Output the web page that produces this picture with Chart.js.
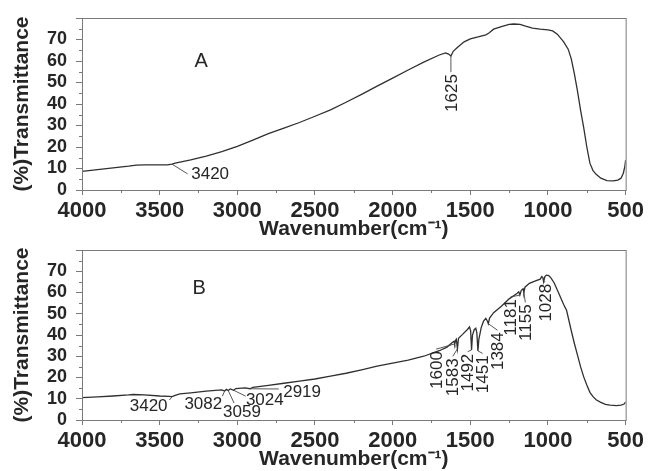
<!DOCTYPE html>
<html>
<head>
<meta charset="utf-8">
<script src="https://cdn.jsdelivr.net/npm/chart.js@4/dist/chart.umd.min.js"></script>
<style>
  body { margin: 0; background: #fff; }
  #wrap { position: relative; width: 649px; height: 471px; }
  canvas { position: absolute; left: 0; }
  #ftirA { top: 0; }
  #ftirB { top: 232px; }
</style>
</head>
<body>
<div id="wrap">
  <canvas id="ftirA" width="649" height="241"></canvas>
  <canvas id="ftirB" width="649" height="239"></canvas>
</div>
<script>
// spectrum A
var wnA = [4000, 3900, 3800, 3700, 3650, 3600, 3500, 3450, 3420, 3400, 3300, 3200, 3100, 3000, 2900, 2800, 2700, 2600, 2500, 2400, 2300, 2200, 2100, 2000, 1900, 1800, 1700, 1660, 1640, 1625, 1610, 1580, 1540, 1500, 1450, 1400, 1380, 1350, 1300, 1250, 1220, 1180, 1150, 1100, 1050, 1000, 970, 940, 900, 870, 850, 830, 810, 790, 770, 750, 730, 710, 690, 660, 620, 580, 550, 530, 515, 505, 500];
var tA = [8.7, 9.5, 10.3, 11.1, 11.6, 11.7, 11.7, 11.7, 12.0, 12.5, 14.0, 15.8, 17.8, 20.3, 23.2, 26.2, 28.8, 31.4, 34.3, 37.3, 40.8, 44.5, 48.3, 52.0, 55.8, 59.5, 62.8, 63.8, 63.2, 62.3, 64.5, 66.5, 68.9, 70.3, 71.2, 72.2, 73.0, 74.8, 76.0, 77.0, 77.2, 77.0, 76.3, 75.3, 74.8, 74.5, 74.0, 72.5, 69.0, 65.5, 61.0, 54.0, 46.0, 37.0, 29.0, 20.0, 12.5, 9.0, 7.3, 5.5, 4.4, 4.2, 4.6, 5.5, 7.8, 11.0, 14.0];

// spectrum B
var wnB = [4000, 3900, 3800, 3700, 3670, 3600, 3500, 3440, 3420, 3400, 3370, 3300, 3200, 3100, 3082, 3070, 3059, 3045, 3024, 3010, 2950, 2919, 2900, 2800, 2700, 2600, 2500, 2400, 2300, 2200, 2100, 2000, 1900, 1800, 1700, 1650, 1620, 1605, 1600, 1595, 1590, 1583, 1576, 1550, 1520, 1505, 1498, 1492, 1486, 1475, 1465, 1458, 1451, 1445, 1430, 1415, 1400, 1390, 1384, 1376, 1350, 1300, 1250, 1200, 1188, 1181, 1172, 1160, 1155, 1148, 1120, 1080, 1050, 1040, 1033, 1028, 1020, 1010, 995, 980, 960, 930, 900, 880, 850, 830, 810, 790, 770, 750, 730, 710, 690, 660, 630, 600, 560, 530, 510, 500];
var tB = [10.5, 10.9, 11.3, 11.8, 12.0, 11.8, 11.3, 11.1, 11.0, 11.6, 12.3, 12.8, 13.6, 14.2, 13.6, 14.4, 13.9, 14.6, 14.0, 14.8, 15.1, 14.7, 15.4, 16.3, 17.3, 18.3, 19.3, 20.6, 22.0, 23.6, 25.3, 26.8, 28.2, 30.0, 32.6, 34.3, 36.2, 37.0, 35.8, 37.5, 38.0, 33.5, 38.5, 40.3, 42.5, 43.8, 42.0, 33.0, 40.0, 42.5, 43.2, 41.0, 32.5, 38.0, 43.5, 46.5, 47.8, 46.5, 45.3, 48.0, 50.5, 53.5, 57.0, 59.5, 60.3, 58.8, 61.0, 61.8, 60.0, 62.5, 64.3, 65.5, 66.3, 67.5, 67.0, 65.0, 67.5, 68.2, 68.0, 66.8, 64.5, 59.5, 54.5, 51.5, 42.0, 36.0, 30.5, 25.0, 20.3, 16.5, 13.0, 11.0, 9.5, 8.3, 7.4, 7.0, 6.8, 7.0, 7.5, 8.5];

// axis ticks
var wnTicks = [4000, 3500, 3000, 2500, 2000, 1500, 1000, 500];
var tTicks = [0, 10, 20, 30, 40, 50, 60, 70];

// peak labels: label centre (wavenumber, %T), leader end for the flat ones
var notesA = [
    { text: '3420', wn: 3420, at: [3175, 7.8], tip: [3320, 7.5] },
    { text: '1625', wn: 1625, at: [1625, 45.1], rot: true }
];
var notesB = [
    { text: '3420', wn: 3420, at: [3571, 6.7], tip: [3437, 9.4] },
    { text: '3082', wn: 3082, at: [3219, 8.0], tip: [3096, 11.2] },
    { text: '3059', wn: 3059, at: [2970, 4.0], tip: [3021, 8.0] },
    { text: '3024', wn: 3024, at: [2823, 9.8], tip: [2946, 11.2] },
    { text: '2919', wn: 2919, at: [2583, 13.4], tip: [2733, 14.6] },
    { text: '1600', wn: 1600, at: [1720, 23.5], rot: true },
    { text: '1583', wn: 1583, at: [1613, 20.1], rot: true },
    { text: '1492', wn: 1492, at: [1517, 22.3], rot: true },
    { text: '1451', wn: 1451, at: [1421, 21.5], rot: true },
    { text: '1384', wn: 1384, at: [1325, 32.4], rot: true },
    { text: '1181', wn: 1181, at: [1242, 48.3], rot: true },
    { text: '1155', wn: 1155, at: [1146, 45.8], rot: true },
    { text: '1028', wn: 1028, at: [1018, 55.2], rot: true }
];

var axisGray = '#7a7a7a';
var inkColor = '#262626';

function toPoints(wn, t) {
    return wn.map(function (w, i) { return { x: w, y: t[i] } })
}

// %T on the trace at a given wavenumber (linear between samples)
function traceAt(wn, t, w) {
    for (var i = 0; i < wn.length - 1; i++) {
        if (w <= wn[i] && w >= wn[i + 1]) {
            var f = (wn[i] - w) / (wn[i] - wn[i + 1]);
            return t[i] + f * (t[i + 1] - t[i]);
        }
    }
    return t[t.length - 1];
}

// frame, minor ticks, panel letter and peak labels
var spectrumDecor = {
    id: 'spectrumDecor',
    afterDatasetsDraw: function (chart, args, opts) {
        var ctx = chart.ctx, a = chart.chartArea;
        var xs = chart.scales.x, ys = chart.scales.y;
        ctx.save();
        ctx.strokeStyle = axisGray;
        ctx.lineWidth = 1;
        ctx.strokeRect(a.left + 0.5, a.top + 0.5, a.right - a.left, a.bottom - a.top);
        ctx.beginPath();
        for (var i = 0; i < wnTicks.length - 1; i++) {
            var px = Math.round(xs.getPixelForValue(wnTicks[i] - 250)) + 0.5;
            ctx.moveTo(px, a.bottom);
            ctx.lineTo(px, a.bottom + 3);
        }
        for (var j = 0; j < tTicks.length; j++) {
            var py = Math.round(ys.getPixelForValue(tTicks[j] + 5)) + 0.5;
            ctx.moveTo(a.left - 3, py);
            ctx.lineTo(a.left, py);
        }
        ctx.stroke();

        ctx.fillStyle = inkColor;
        ctx.font = '20px "Liberation Sans", Arial, sans-serif';
        ctx.textAlign = 'center';
        ctx.textBaseline = 'middle';
        ctx.fillText(opts.letter, xs.getPixelForValue(opts.letterAt[0]), ys.getPixelForValue(opts.letterAt[1]));

        ctx.font = '17px "Liberation Sans", Arial, sans-serif';
        ctx.strokeStyle = '#444';
        ctx.lineWidth = 0.9;
        opts.notes.forEach(function (n) {
            var cx = xs.getPixelForValue(n.at[0]);
            var cy = ys.getPixelForValue(n.at[1]);
            var sx = xs.getPixelForValue(n.wn);
            var sy = ys.getPixelForValue(traceAt(opts.wn, opts.t, n.wn));
            var ex, ey;
            if (n.rot) {
                ex = cx;
                ey = cy - ctx.measureText(n.text).width / 2 - 2;
            } else {
                ex = xs.getPixelForValue(n.tip[0]);
                ey = ys.getPixelForValue(n.tip[1]);
            }
            ctx.beginPath();
            ctx.moveTo(sx, sy);
            ctx.lineTo(ex, ey);
            ctx.stroke();
            ctx.save();
            ctx.translate(cx, cy);
            if (n.rot) ctx.rotate(-Math.PI / 2);
            ctx.fillText(n.text, 0, 1);
            ctx.restore();
        });
        ctx.restore();
    }
};

function spectrumChart(id, wn, t, notes, letter, letterAt, padTop) {
    var canvas = document.getElementById(id).getContext('2d');
    return new Chart(canvas, {
        type: 'line',
        data: {
            datasets: [
                {
                    data: toPoints(wn, t),
                    borderColor: '#303030',
                    borderWidth: 1.3,
                    pointRadius: 0,
                    tension: 0,
                    fill: false
                }
            ]
        },
        options: {
            responsive: false,
            animation: false,
            layout: { padding: { left: 0, right: 20, top: padTop, bottom: 0 } },
            plugins: {
                legend: { display: false },
                tooltip: { enabled: false },
                spectrumDecor: { notes: notes, letter: letter, letterAt: letterAt, wn: wn, t: t }
            },
            scales: {
                x: {
                    type: 'linear',
                    reverse: true,
                    min: 500,
                    max: 4000,
                    afterBuildTicks: function (scale) {
                        scale.ticks = wnTicks.map(function (v) { return { value: v } })
                    },
                    afterFit: function (scale) { scale.height = 51 },
                    ticks: {
                        color: inkColor,
                        font: { family: '"Liberation Sans", Arial, sans-serif', size: 22, weight: 'bold', lineHeight: 1 },
                        padding: 5,
                        maxRotation: 0,
                        autoSkip: false,
                        callback: function (v) { return String(v) }
                    },
                    grid: { drawOnChartArea: false, drawTicks: true, tickLength: 5, color: axisGray },
                    border: { color: axisGray },
                    title: {
                        display: true,
                        text: 'Wavenumber(cm\u207B\u00B9)',
                        color: inkColor,
                        font: { family: '"Liberation Sans", Arial, sans-serif', size: 21, weight: 'bold', lineHeight: 1 },
                        padding: { top: 0, bottom: 1 }
                    }
                },
                y: {
                    min: 0,
                    max: 80,
                    afterBuildTicks: function (scale) {
                        scale.ticks = tTicks.concat([80]).map(function (v) { return { value: v } })
                    },
                    afterFit: function (scale) { scale.width = 82 },
                    ticks: {
                        color: inkColor,
                        font: { family: '"Liberation Sans", Arial, sans-serif', size: 18, weight: 'bold', lineHeight: 1 },
                        padding: 9,
                        autoSkip: false,
                        callback: function (v) { return v === 80 ? '' : String(v) }
                    },
                    grid: { drawOnChartArea: false, drawTicks: true, tickLength: 6, color: axisGray },
                    border: { color: axisGray },
                    title: {
                        display: true,
                        text: '(%)Transmittance',
                        color: inkColor,
                        font: { family: '"Liberation Sans", Arial, sans-serif', size: 21, weight: 'bold', lineHeight: 1 },
                        padding: { top: 12, bottom: 0 }
                    }
                }
            }
        },
        plugins: [spectrumDecor]
    })
}

spectrumChart('ftirA', wnA, tA, notesA, 'A', [3232, 59.9], 11);
spectrumChart('ftirB', wnB, tB, notesB, 'B', [3245, 62.1], 9);
</script>
</body>
</html>
